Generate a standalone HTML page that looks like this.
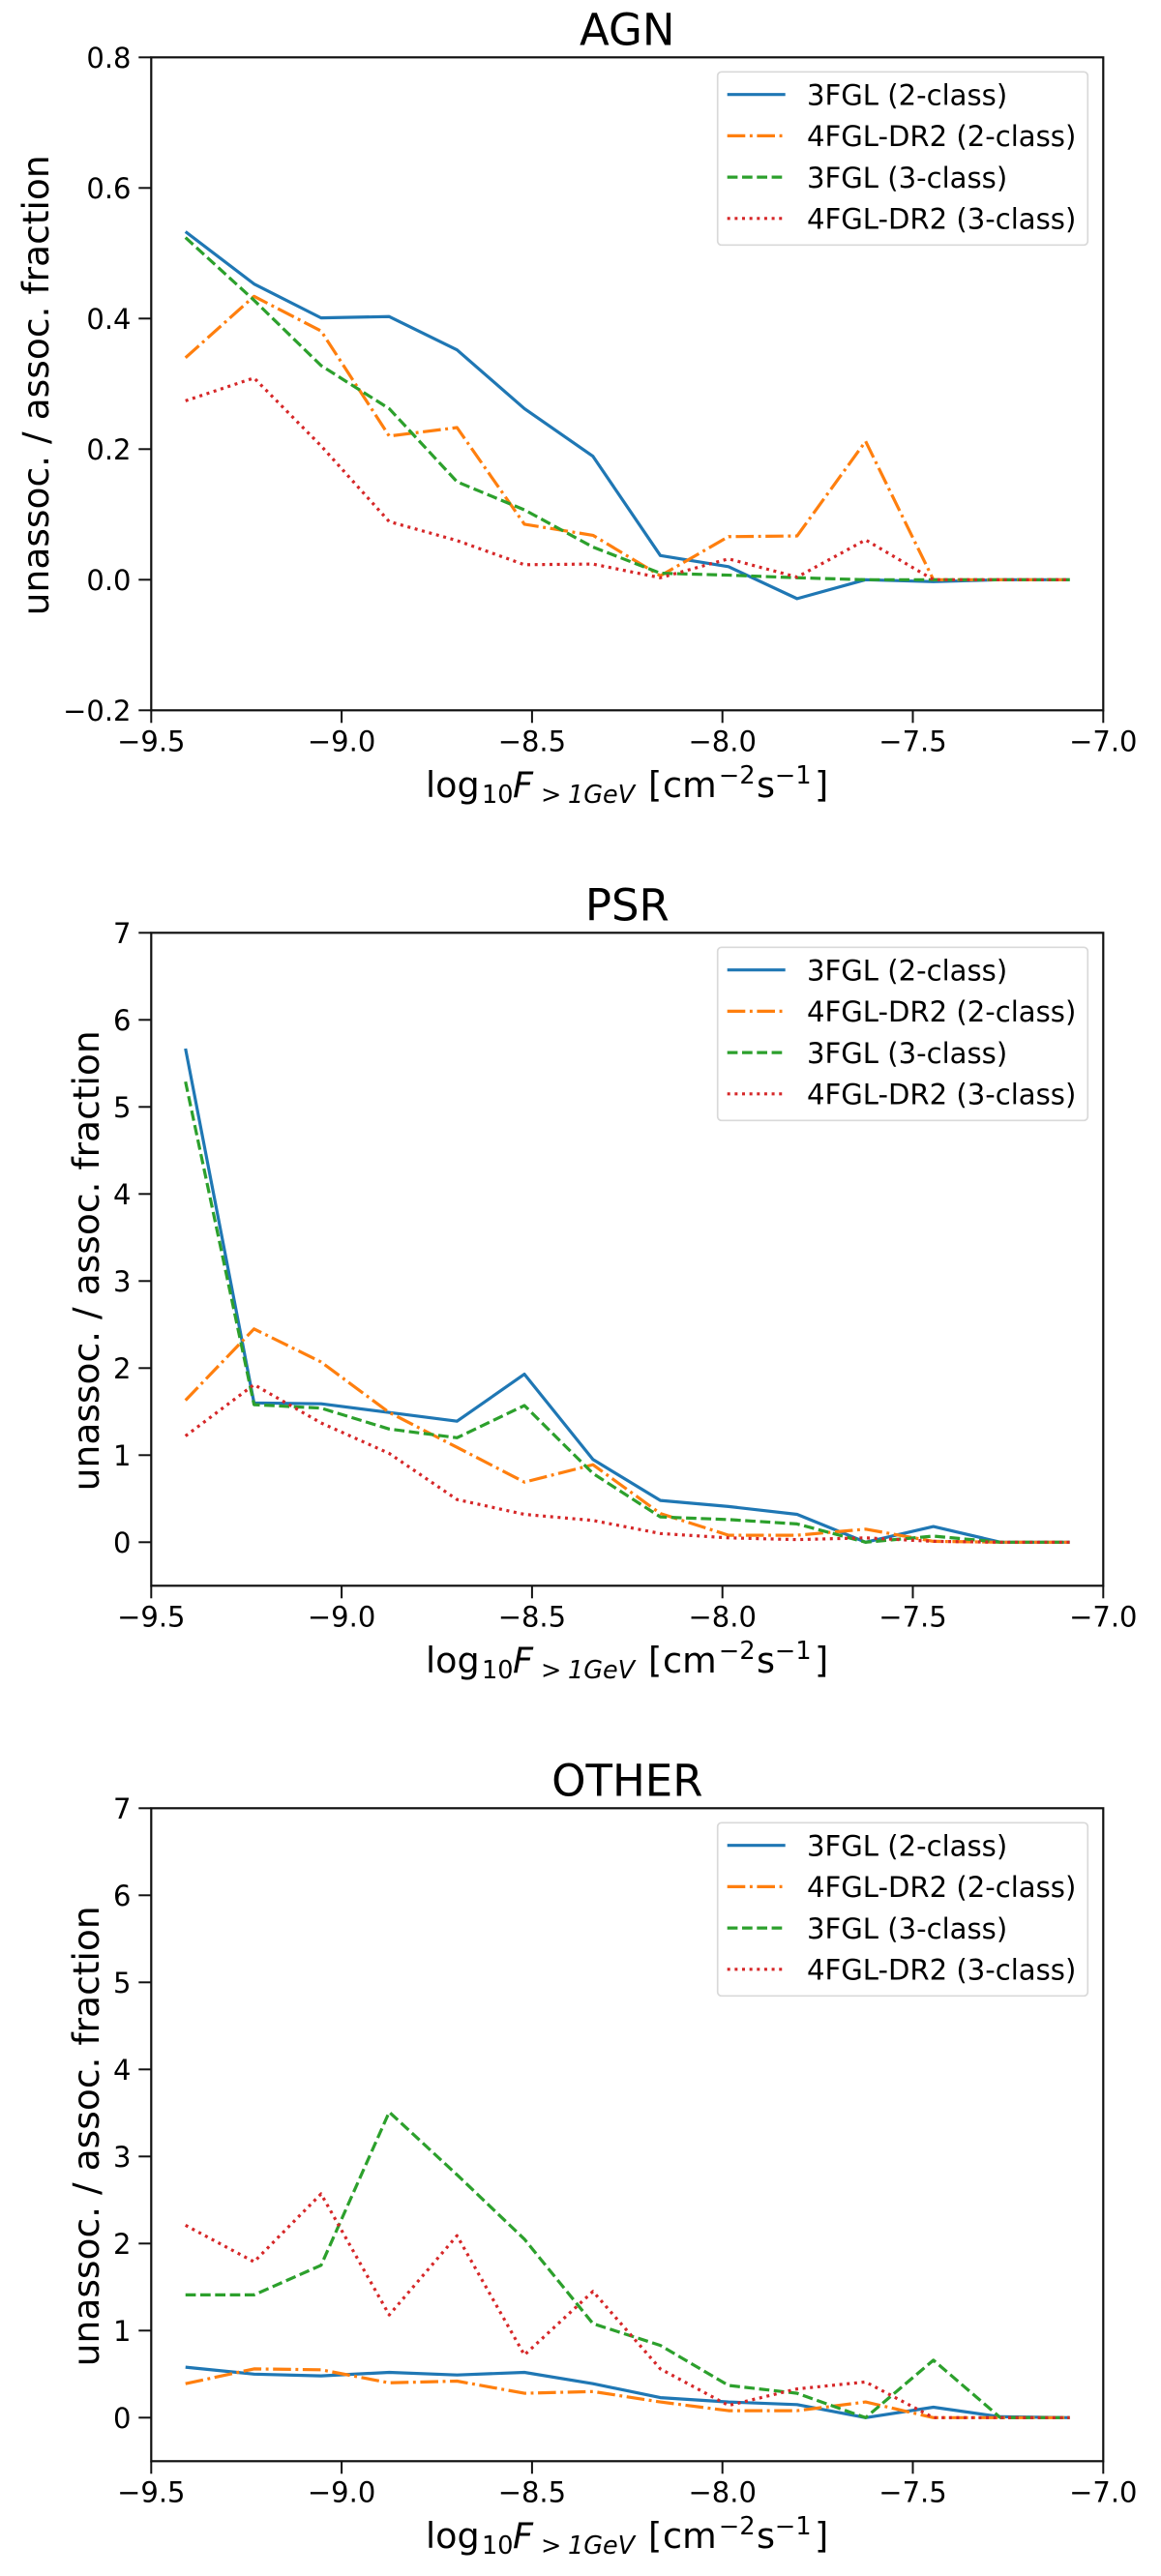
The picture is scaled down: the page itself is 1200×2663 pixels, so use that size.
<!DOCTYPE html>
<html lang="en">
<head>
<meta charset="utf-8">
<title>Unassociated to associated source fraction</title>
<style>
html,body{margin:0;padding:0;background:#fff;}
svg{display:block;}
text{font-family:"DejaVu Sans","Liberation Sans",sans-serif;fill:#000;}
</style>
</head>
<body>
<svg id="figure" xmlns="http://www.w3.org/2000/svg" width="1200" height="2663" viewBox="0 0 1200 2663"></svg>
<script>
// ---- Data ----
const logFlux = [-9.41,-9.23,-9.054,-8.875,-8.697,-8.52,-8.34,-8.163,-7.984,-7.804,-7.624,-7.446,-7.27,-7.088];

const agn3fgl2 = [0.533,0.453,0.401,0.403,0.352,0.262,0.189,0.037,0.020,-0.029,0,-0.003,0,0];
const agn4fgl2 = [0.34,0.434,0.381,0.22,0.233,0.085,0.068,0.006,0.066,0.067,0.212,0,0,0];
const agn3fgl3 = [0.524,0.428,0.328,0.262,0.15,0.107,0.05,0.01,0.007,0.003,0,0,0,0];
const agn4fgl3 = [0.274,0.309,0.205,0.089,0.06,0.023,0.024,0.003,0.032,0.004,0.061,0,0,0];

const psr3fgl2 = [5.67,1.6,1.59,1.49,1.39,1.93,0.95,0.48,0.41,0.32,0,0.18,0,0];
const psr4fgl2 = [1.63,2.45,2.07,1.49,1.09,0.69,0.89,0.33,0.08,0.08,0.15,0.01,0,0];
const psr3fgl3 = [5.29,1.58,1.54,1.3,1.2,1.57,0.79,0.29,0.26,0.21,0,0.07,0,0];
const psr4fgl3 = [1.22,1.81,1.37,1.02,0.49,0.32,0.25,0.1,0.05,0.03,0.05,0.01,0,0];

const oth3fgl2 = [0.58,0.5,0.48,0.52,0.49,0.52,0.39,0.23,0.18,0.15,0,0.12,0.01,0];
const oth4fgl2 = [0.39,0.56,0.55,0.4,0.42,0.28,0.3,0.18,0.08,0.08,0.18,0,0,0];
const oth3fgl3 = [1.41,1.41,1.75,3.51,2.79,2.05,1.08,0.83,0.37,0.28,0,0.66,0,0];
const oth4fgl3 = [2.21,1.79,2.57,1.18,2.09,0.72,1.45,0.56,0.14,0.33,0.41,0,0,0];

const xTicks = [-9.5,-9,-8.5,-8,-7.5,-7];
const xTickLabels = ["\u22129.5","\u22129.0","\u22128.5","\u22128.0","\u22127.5","\u22127.0"];
const agnYTicks = [-0.2,0,0.2,0.4,0.6,0.8];
const agnYTickLabels = ["\u22120.2","0.0","0.2","0.4","0.6","0.8"];
const wideYTicks = [0,1,2,3,4,5,6,7];
const wideYTickLabels = ["0","1","2","3","4","5","6","7"];
const seriesNames = ["3FGL (2-class)","4FGL-DR2 (2-class)","3FGL (3-class)","4FGL-DR2 (3-class)"];

// ---- Styles ----
const seriesColors = ["#1f77b4","#ff7f0e","#2ca02c","#d62728"];
const seriesDashes = ["none","18.6 4.6 2.9 4.6","10.7 4.6","3 4.65"];
const seriesKeys = ["3fgl-2-class","4fgl-dr2-2-class","3fgl-3-class","4fgl-dr2-3-class"];

const SVGNS = "http://www.w3.org/2000/svg";
const figure = document.getElementById("figure");
const AX_LEFT = 156.3, AX_RIGHT = 1140.3, X_MIN = -9.5, X_MAX = -7;

function make(parent, tag, attrs, content) {
  const el = document.createElementNS(SVGNS, tag);
  for (const k in attrs) el.setAttribute(k, attrs[k]);
  if (content !== undefined) el.textContent = content;
  parent.appendChild(el);
  return el;
}
function xScale(v) { return AX_LEFT + (v - X_MIN) / (X_MAX - X_MIN) * (AX_RIGHT - AX_LEFT); }

function drawPanel(p) {
  const yScale = v => p.bottom - (v - p.yMin) / (p.yMax - p.yMin) * (p.bottom - p.top);
  const g = make(figure, "g", {});
  
  

  const title = make(g, "text", {x:(AX_LEFT+AX_RIGHT)/2, y:p.top-13, "text-anchor":"middle", "font-size":45}, p.title);
  
  

  const clipId = "clip-" + p.key;
  const defs = make(g, "defs", {});
  const clip = make(defs, "clipPath", {id:clipId});
  make(clip, "rect", {x:AX_LEFT, y:p.top, width:AX_RIGHT-AX_LEFT, height:p.bottom-p.top});

  // series
  p.series.forEach((vals, i) => {
    const pts = vals.map((v, j) => xScale(logFlux[j]).toFixed(2) + "," + yScale(v).toFixed(2)).join(" ");
    const line = make(g, "polyline", {points:pts, fill:"none", stroke:seriesColors[i], "stroke-width":3.2,
      "stroke-dasharray":seriesDashes[i], "stroke-linejoin":"round", "stroke-linecap":"butt", "clip-path":"url(#"+clipId+")"});
    
    
  });

  // x ticks
  xTicks.forEach((t, i) => {
    const x = xScale(t);
    const tick = make(g, "line", {x1:x, x2:x, y1:p.bottom, y2:p.bottom+13, stroke:"#111", "stroke-width":2});
    
    
    const lab = make(g, "text", {x:x, y:p.bottom+42, "text-anchor":"middle", "font-size":29}, xTickLabels[i]);
    
    
  });

  // y ticks
  p.yTicks.forEach((t, i) => {
    const y = yScale(t);
    const tick = make(g, "line", {x1:AX_LEFT-13, x2:AX_LEFT, y1:y, y2:y, stroke:"#111", "stroke-width":2});
    
    
    const lab = make(g, "text", {x:135.5, y:y+10.7, "text-anchor":"end", "font-size":29}, p.yLabels[i]);
    
    
  });

  // frame
  const frame = make(g, "rect", {x:AX_LEFT, y:p.top, width:AX_RIGHT-AX_LEFT, height:p.bottom-p.top, fill:"none", stroke:"#111", "stroke-width":2.2});
  
  

  // y label
  const cy = (p.top + p.bottom) / 2 + 1.5;
  const yTitle = make(g, "text", {x:p.yTitleX, y:cy, transform:"rotate(-90 "+p.yTitleX+" "+cy+")", "text-anchor":"middle", "font-size":37.6}, "unassoc. / assoc. fraction");
  
  

  // x label (mathtext style)
  const base = p.bottom + 89.7;
  const xTitle = make(g, "text", {"font-size":36.5});
  
  
  const pieces = [
    ["log", 440, 0, 36.5, false],
    ["10", 498, 6, 25.5, false],
    ["F", 530, 0, 36.5, true],
    [">", 559, 6, 25.5, true],
    ["1GeV", 587, 6, 25.5, true],
    ["[", 670, 0, 36.5, false],
    ["cm", 685, 0, 36.5, false],
    ["\u22122", 743, -14, 25.5, false],
    ["s", 782, 0, 36.5, false],
    ["\u22121", 801, -14, 25.5, false],
    ["]", 842, 0, 36.5, false]
  ];
  pieces.forEach(s => {
    const span = make(xTitle, "tspan", {x:s[1], y:base+s[2], "font-size":s[3], "font-style":s[4] ? "italic" : "normal"}, s[0]);
  });

  // legend
  const lg = make(g, "g", {});
  
  
  const ltop = p.top + 15;
  make(lg, "rect", {x:741.7, y:ltop, width:382.6, height:179, rx:4, ry:4, fill:"#fff", "fill-opacity":0.8, stroke:"#d9d9d9", "stroke-width":1.7});
  seriesNames.forEach((name, i) => {
    const ly = ltop + 23.4 + i * 42.7;
    const handle = make(lg, "line", {x1:751.7, x2:811.7, y1:ly, y2:ly, stroke:seriesColors[i], "stroke-width":3.2, "stroke-dasharray":seriesDashes[i]});
    
    
    const label = make(lg, "text", {x:834, y:ly+10.7, "font-size":29.1}, name);
    
    
  });
}

drawPanel({key:"agn", title:"AGN", top:59.3, bottom:734.3, yMin:-0.2, yMax:0.8, yTitleX:50,
  yTicks:agnYTicks, yLabels:agnYTickLabels, series:[agn3fgl2,agn4fgl2,agn3fgl3,agn4fgl3]});
drawPanel({key:"psr", title:"PSR", top:964.3, bottom:1639.3, yMin:-0.5, yMax:7, yTitleX:102,
  yTicks:wideYTicks, yLabels:wideYTickLabels, series:[psr3fgl2,psr4fgl2,psr3fgl3,psr4fgl3]});
drawPanel({key:"other", title:"OTHER", top:1869.3, bottom:2544.3, yMin:-0.5, yMax:7, yTitleX:102,
  yTicks:wideYTicks, yLabels:wideYTickLabels, series:[oth3fgl2,oth4fgl2,oth3fgl3,oth4fgl3]});
</script>
</body>
</html>
